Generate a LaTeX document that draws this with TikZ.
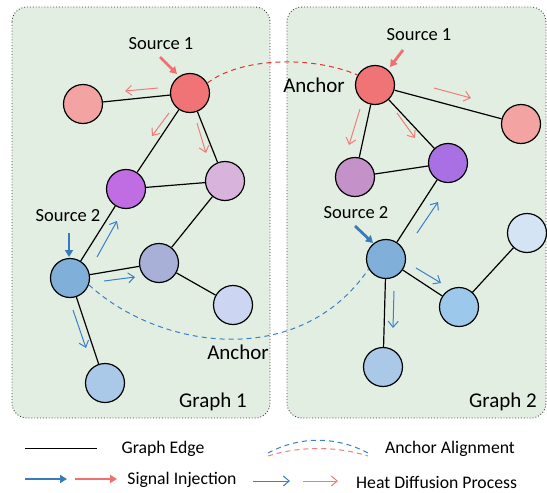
\documentclass[tikz,border=0pt]{standalone}
\usepackage{fontspec}
\setmainfont{Carlito}
\usetikzlibrary{arrows.meta}
\definecolor{panel}{RGB}{227,238,227}
\definecolor{panelborder}{RGB}{60,60,60}
\definecolor{nred}{RGB}{240,116,118}
\definecolor{npink}{RGB}{244,163,163}
\definecolor{npurple}{RGB}{192,108,226}
\definecolor{nlpurple}{RGB}{216,180,220}
\definecolor{nsrcblue}{RGB}{128,176,218}
\definecolor{ngrayblue}{RGB}{168,176,216}
\definecolor{nlavender}{RGB}{204,214,242}
\definecolor{nbotblue}{RGB}{170,200,232}
\definecolor{npurple2}{RGB}{168,112,226}
\definecolor{nmauve}{RGB}{196,146,200}
\definecolor{nmidblue}{RGB}{156,200,236}
\definecolor{nlightblue}{RGB}{212,228,244}
\definecolor{diffred}{RGB}{240,124,124}
\definecolor{diffblue}{RGB}{58,128,196}
\definecolor{injred}{RGB}{240,112,112}
\definecolor{injblue}{RGB}{56,122,186}
\definecolor{dashred}{RGB}{232,48,48}
\definecolor{dashblue}{RGB}{58,128,196}
\begin{document}
\begin{tikzpicture}[x=1pt,y=-1pt,
  panelbox/.style={draw=panelborder,fill=panel,dotted,line width=0.9pt,rounded corners=15pt},
  gnode/.style={circle,draw=black,line width=1.2pt,minimum size=39pt,inner sep=0pt},
  gedge/.style={draw=black,line width=1.2pt},
  diffr/.style={draw=diffred,line width=1pt,-{Straight Barb[length=6pt,width=10pt]}},
  diffb/.style={draw=diffblue,line width=1pt,-{Straight Barb[length=6pt,width=10pt]}},
  injr/.style={draw=injred,line width=2.8pt,-{Triangle[length=7pt,width=8pt]}},
  injb/.style={draw=injblue,line width=2.8pt,-{Triangle[length=7pt,width=8pt]}},
  alignr/.style={draw=dashred,line width=1pt,dash pattern=on 5pt off 4pt},
  alignb/.style={draw=dashblue,line width=1pt,dash pattern=on 5pt off 4pt},
  srclabel/.style={inner sep=0pt,font=\fontsize{18.5}{20}\selectfont},
  biglabel/.style={inner sep=0pt,font=\fontsize{21}{23}\selectfont},
  leglabel/.style={inner sep=0pt,font=\fontsize{17.7}{19}\selectfont}]
\useasboundingbox (0,0) rectangle (547,493);
\fill[white] (0,0) rectangle (547,493);
% panels
\draw[panelbox] (12,7) rectangle (270,418);
\draw[panelbox] (287,7) rectangle (546,418);
% left graph nodes
\node[gnode,fill=nred] (L1) at (190,93) {};
\node[gnode,fill=npink] (L2) at (83,104) {};
\node[gnode,fill=npurple] (L3) at (126,189) {};
\node[gnode,fill=nlpurple] (L4) at (225,181) {};
\node[gnode,fill=nsrcblue] (L5) at (70,278) {};
\node[gnode,fill=ngrayblue] (L6) at (159,263) {};
\node[gnode,fill=nlavender] (L7) at (233,305) {};
\node[gnode,fill=nbotblue] (L8) at (105,383) {};
% right graph nodes
\node[gnode,fill=nred] (R1) at (375,85) {};
\node[gnode,fill=npink] (R2) at (521,124) {};
\node[gnode,fill=npurple2] (R3) at (448,163) {};
\node[gnode,fill=nmauve] (R4) at (355,177) {};
\node[gnode,fill=nsrcblue] (R5) at (386,259) {};
\node[gnode,fill=nmidblue] (R6) at (459,307) {};
\node[gnode,fill=nlightblue] (R7) at (527,233) {};
\node[gnode,fill=nbotblue] (R8) at (383,367) {};
% edges
\draw[gedge] (L1) -- (L2);
\draw[gedge] (L1) -- (L3);
\draw[gedge] (L1) -- (L4);
\draw[gedge] (L3) -- (L4);
\draw[gedge] (L4) -- (L6);
\draw[gedge] (L5) -- (L3);
\draw[gedge] (L5) -- (L6);
\draw[gedge] (L6) -- (L7);
\draw[gedge] (L5) -- (L8);
\draw[gedge] (R1) -- (R2);
\draw[gedge] (R1) -- (R4);
\draw[gedge] (R1) -- (R3);
\draw[gedge] (R4) -- (R3);
\draw[gedge] (R3) -- (R5);
\draw[gedge] (R5) -- (R6);
\draw[gedge] (R6) -- (R7);
\draw[gedge] (R5) -- (R8);
% diffusion arrows
\draw[diffr] (158,88) -- (125,91);
\draw[diffr] (169,113) -- (152,136);
\draw[diffr] (197,123) -- (206,153);
\draw[diffr] (434,88) -- (471,98);
\draw[diffr] (360,109) -- (349,145);
\draw[diffr] (397,113) -- (415,138);
\draw[diffb] (97,257) -- (117,221);
\draw[diffb] (104,281) -- (135,277);
\draw[diffb] (73,310) -- (86,348);
\draw[diffb] (417,233) -- (438,202);
\draw[diffb] (416,268) -- (441,283);
\draw[diffb] (394,291) -- (393,328);
% injection arrows
\draw[injr] (160,57) -- (177,74);
\draw[injr] (403,50) -- (390,67);
\draw[injb] (69,233) -- (69,257);
\draw[injb] (355,226) -- (373,243);
% anchor alignment curves
\draw[alignr] (L1.30) .. controls (240,58) and (310,55) .. (R1.150);
\draw[alignb] (L5.-20) .. controls (160,350) and (300,370) .. (R5.210);
% labels
\node[srclabel] (s1l) at (161,44) {Source 1};
\node[srclabel] (s1r) at (419,35) {Source 1};
\node[srclabel] (s2l) at (68,216) {Source 2};
\node[srclabel] (s2r) at (356,213) {Source 2};
\node[biglabel] (anr) at (314,85) {Anchor};
\node[biglabel] (anl) at (238,352) {Anchor};
\node[biglabel] (g1) at (213,402) {Graph 1};
\node[biglabel] (g2) at (503,402) {Graph 2};
% legend
\coordinate (le1a) at (25,448); \coordinate (le1b) at (97,448);
\draw[gedge,line width=1pt] (le1a) -- (le1b);
\node[leglabel] (lt1) at (163,449) {Graph Edge};
\coordinate (la1) at (268,453); \coordinate (la2) at (368,453);
\draw[alignb] (la1) .. controls (300,436) and (336,436) .. (la2);
\coordinate (la3) at (268,456); \coordinate (la4) at (368,456);
\draw[alignr,draw=diffred] (la3) .. controls (300,446) and (336,446) .. (la4);
\node[leglabel] (lt2) at (450,449) {Anchor Alignment};
\coordinate (lb1) at (25,479); \coordinate (lb2) at (67,479);
\draw[injb] (lb1) -- (lb2);
\coordinate (lb3) at (75,479); \coordinate (lb4) at (117,479);
\draw[injr] (lb3) -- (lb4);
\node[leglabel] (lt3) at (182,480) {Signal Injection};
\coordinate (lc1) at (253,481); \coordinate (lc2) at (290,481);
\draw[diffb] (lc1) -- (lc2);
\coordinate (lc3) at (303,481); \coordinate (lc4) at (338,481);
\draw[diffr] (lc3) -- (lc4);
\node[leglabel,anchor=west] (lt4) at (356,482) {Heat Diffusion Process};
\end{tikzpicture}
\end{document}
